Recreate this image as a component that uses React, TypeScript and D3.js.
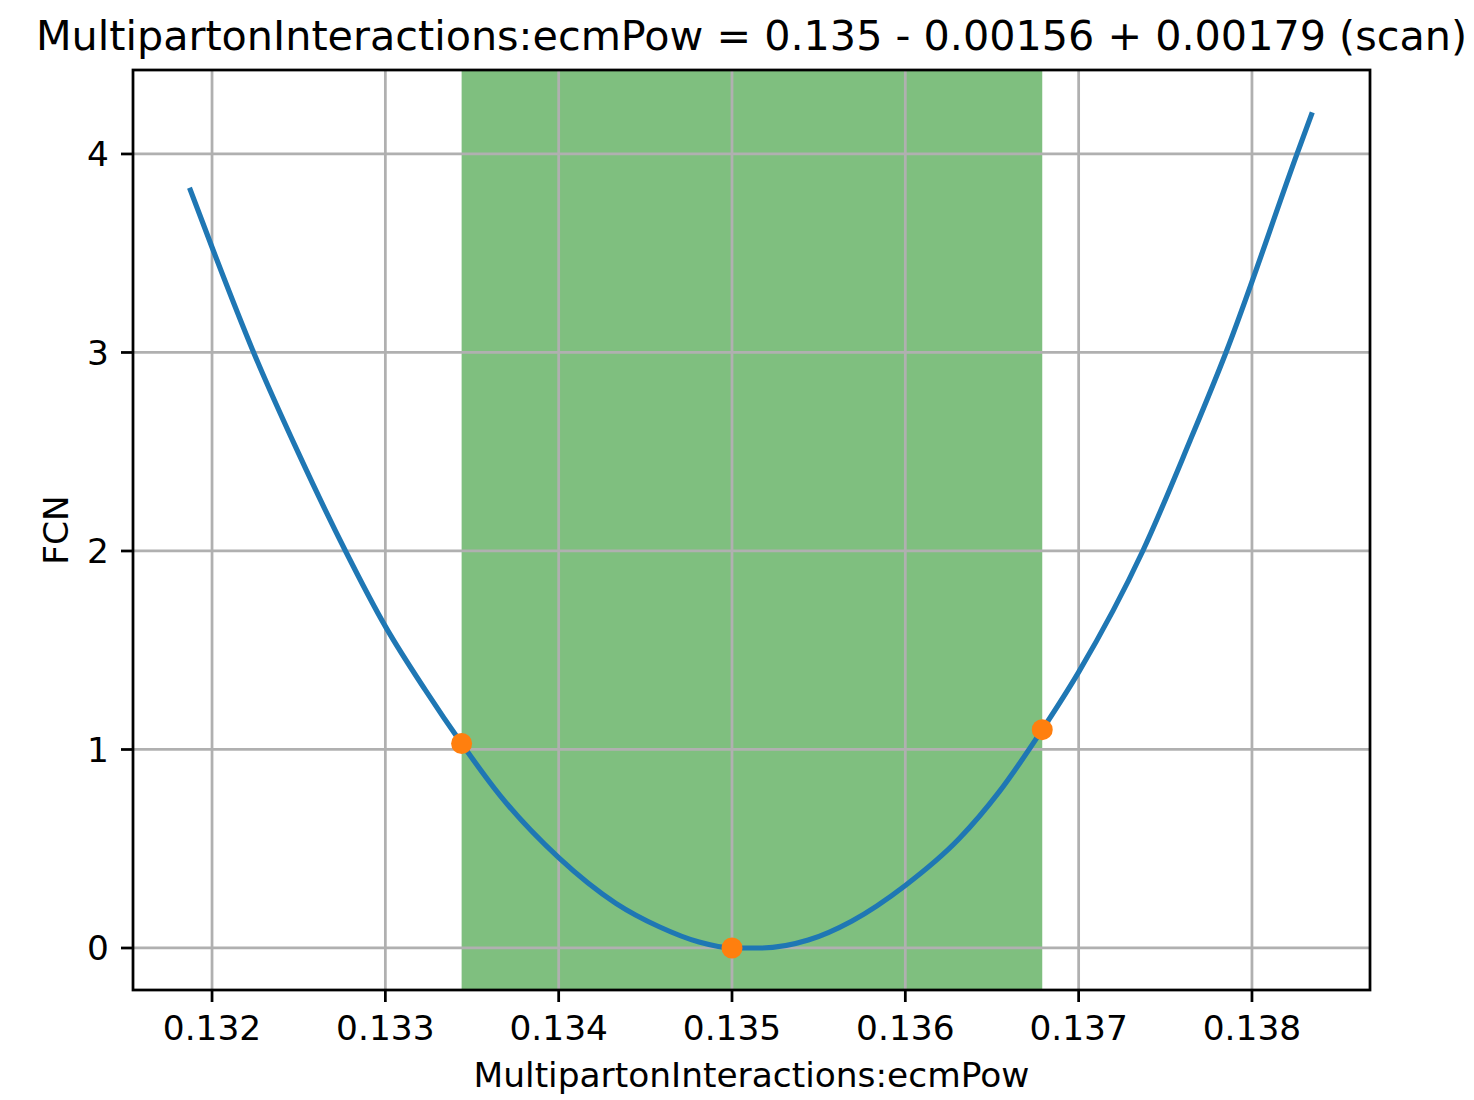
import React from "react";
import * as d3 from "d3";

const scanX = [0.13187, 0.132, 0.13224, 0.1325, 0.13277, 0.133, 0.13323, 0.13344, 0.13366, 0.134, 0.13433, 0.13458, 0.13481, 0.135, 0.13517, 0.13544, 0.13569, 0.136, 0.13631, 0.13654, 0.13679, 0.137, 0.13737, 0.13764, 0.13785, 0.13826, 0.138348];
const scanY = [3.83, 3.53, 3.0, 2.49, 2.0, 1.62, 1.3, 1.03, 0.77, 0.455, 0.225, 0.107, 0.03, 0.0, 0.0, 0.04, 0.135, 0.315, 0.55, 0.785, 1.1, 1.39, 2.0, 2.55, 3.0, 4.0, 4.21];
const markerX = [0.13344, 0.135, 0.13679];
const markerY = [1.03, 0.0, 1.1];
const bandLo = 0.13344;
const bandHi = 0.13679;
const xTicks = [0.132, 0.133, 0.134, 0.135, 0.136, 0.137, 0.138];
const yTicks = [0, 1, 2, 3, 4];
const titleText = "MultipartonInteractions:ecmPow = 0.135 - 0.00156 + 0.00179 (scan)";
const xLabel = "MultipartonInteractions:ecmPow";
const yLabel = "FCN";

const W = 1474, H = 1100;
const L = 133, R = 1370, T = 70, B = 990;
const FONT = "DejaVu Sans, sans-serif";
const LW = 2.75;

export default function App() {
  const x = d3.scaleLinear().domain([0.131544, 0.138681]).range([L, R]);
  const y = d3.scaleLinear().domain([-0.2116, 4.423]).range([B, T]);
  const pts = scanX.map((v, i) => [v, scanY[i]] as [number, number]);
  const line = d3.line<[number, number]>().x(d => x(d[0])).y(d => y(d[1])).curve(d3.curveMonotoneX);
  return (
    <svg width={W} height={H} style={{ position: "absolute", left: 0, top: 0, background: "#fff" }} fontFamily={FONT}>
      <defs>
        <clipPath id="axclip"><rect x={L} y={T} width={R - L} height={B - T} /></clipPath>
      </defs>
      <rect x={0} y={0} width={W} height={H} fill="#fff" />
      <rect x={x(bandLo)} y={T} width={x(bandHi) - x(bandLo)} height={B - T} fill="#008000" fillOpacity={0.5} />
      {xTicks.map(t => (
        <line key={"gx" + t} x1={x(t)} x2={x(t)} y1={T} y2={B} stroke="#b0b0b0" strokeWidth={LW} />
      ))}
      {yTicks.map(t => (
        <line key={"gy" + t} x1={L} x2={R} y1={y(t)} y2={y(t)} stroke="#b0b0b0" strokeWidth={LW} />
      ))}
      <g clipPath="url(#axclip)">
        <path d={line(pts) || ""} fill="none" stroke="#1f77b4" strokeWidth={5.2} strokeLinejoin="round" strokeLinecap="butt" />
        {markerX.map((v, i) => (
          <circle key={"m" + i} cx={x(v)} cy={y(markerY[i])} r={10.5} fill="#ff7f0e" />
        ))}
      </g>
      <rect x={L} y={T} width={R - L} height={B - T} fill="none" stroke="#000" strokeWidth={LW} />
      {xTicks.map(t => (
        <g key={"tx" + t}>
          <line x1={x(t)} x2={x(t)} y1={B} y2={B + 12} stroke="#000" strokeWidth={LW} />
          <text x={x(t)} y={B + 49.5} fontSize={34.4} textAnchor="middle" fill="#000">{d3.format(".3f")(t)}</text>
        </g>
      ))}
      {yTicks.map(t => (
        <g key={"ty" + t}>
          <line x1={L - 12} x2={L} y1={y(t)} y2={y(t)} stroke="#000" strokeWidth={LW} />
          <text x={L - 24} y={y(t) + 12.5} fontSize={34.4} textAnchor="end" fill="#000">{String(t)}</text>
        </g>
      ))}
      <text x={(L + R) / 2} y={1087} fontSize={34.4} textAnchor="middle" fill="#000">{xLabel}</text>
      <text transform={`translate(68,${(T + B) / 2}) rotate(-90)`} fontSize={34.4} textAnchor="middle" fill="#000">{yLabel}</text>
      <text x={(L + R) / 2} y={49.5} fontSize={41.3} textAnchor="middle" fill="#000">{titleText}</text>
    </svg>
  );
}
